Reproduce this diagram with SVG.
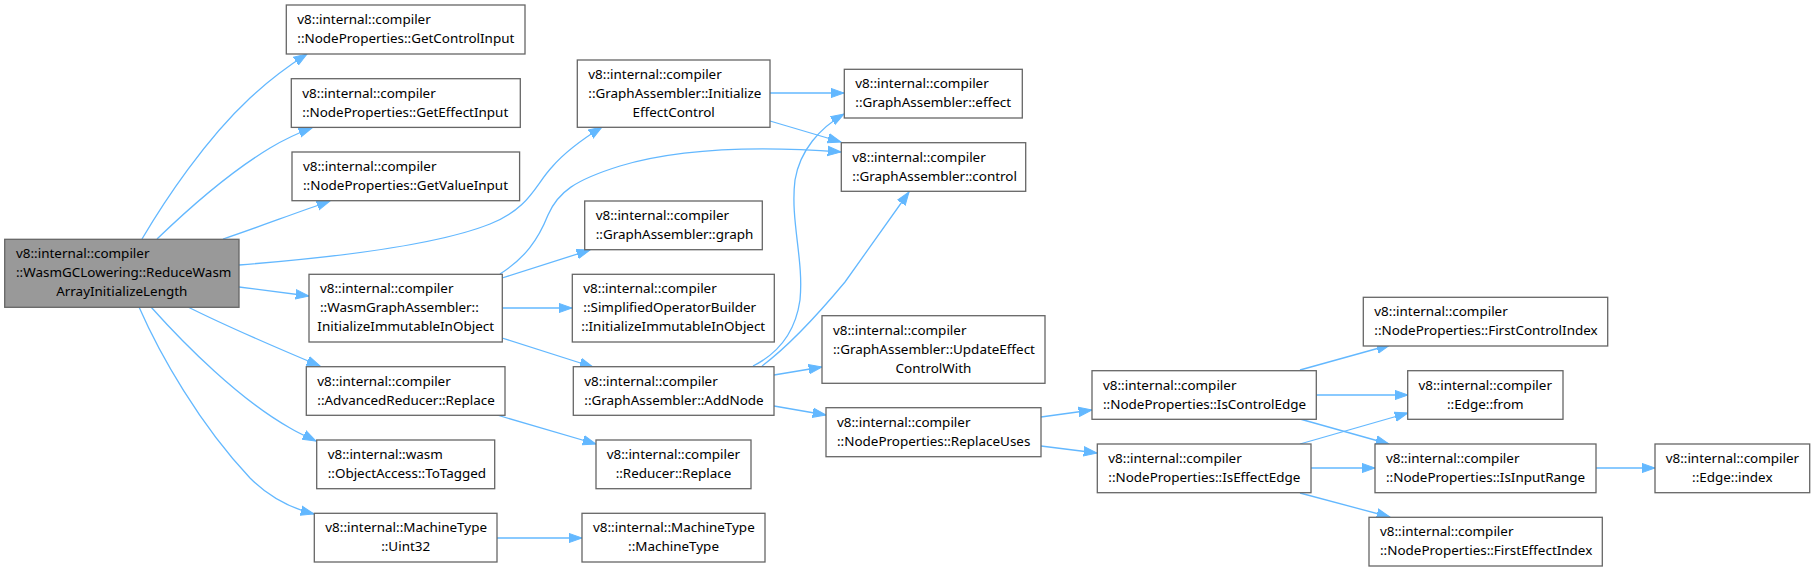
<svg xmlns="http://www.w3.org/2000/svg" width="1815" height="571" viewBox="0 0 1815 571">
<style>
.n rect{fill:#fff;stroke:#666;stroke-width:1.3}
.m rect{fill:#999}
text{font-family:"Noto Sans","DejaVu Sans",sans-serif;font-size:13.45px;fill:#000}
.c{text-anchor:middle}
#edges path{fill:none;stroke:#63b8ff;stroke-width:1.3;marker-end:url(#ah)}
</style>
<defs>
<marker id="ah" markerUnits="userSpaceOnUse" markerWidth="16" markerHeight="12" refX="13.3" refY="5" orient="auto" viewBox="0 0 16 10">
<path d="M0,0.3 L13.3,5 L0,9.7 z" fill="#63b8ff" stroke="#63b8ff" stroke-width="1"/>
</marker>
</defs>
<rect width="1815" height="571" fill="#fff"/>
<g id="edges">
<path d="M142,239 C165,200 205,140 250,98 C265,84 285,68 307,54"/>
<path d="M157,239 C185,212 230,172 270,148 C285,139 298,133 312,128"/>
<path d="M223,239 C250,230 290,215 330,201"/>
<path d="M239,265 C340,257 440,244 490,224 C530,208 535,185 552,167 C564,153 578,142 602,127"/>
<path d="M239,287 L309,296"/>
<path d="M188,307 C220,323 270,345 320,366"/>
<path d="M151,307 C185,345 240,400 290,428 C300,434 308,437 316,441"/>
<path d="M139,307 C160,355 200,425 250,478 C270,498 290,508 314,514"/>
<path d="M502,278 L590,250"/>
<path d="M500,274 C525,258 538,240 548,215 C558,192 575,180 620,166 C680,148 760,146 841,152"/>
<path d="M502,308 L572,308"/>
<path d="M502,338 L593,367"/>
<path d="M497,415 L596,444"/>
<path d="M497,538 L582,538"/>
<path d="M770,93 L844,93"/>
<path d="M770,121 L841,142"/>
<path d="M753,366 C775,355 795,335 800,300 C804,260 790,220 795,180 C800,150 820,128 844,114"/>
<path d="M762,366 C790,345 820,312 845,282 L909,192"/>
<path d="M774,375 L822,367"/>
<path d="M774,406 L826,415"/>
<path d="M1041,417 L1092,410"/>
<path d="M1041,446 L1097,453"/>
<path d="M1300,370 L1390,345"/>
<path d="M1316,395 L1408,395"/>
<path d="M1300,419 L1389,444"/>
<path d="M1300,444 L1408,413"/>
<path d="M1311,468 L1375,468"/>
<path d="M1300,493 L1390,517"/>
<path d="M1596,468 L1655,468"/>
</g>
<g id="main" class="n m"><rect x="4.7" y="239.3" width="234.3" height="68"/><text x="16" y="258.3">v8::internal::compiler</text><text x="16" y="277.3">::WasmGCLowering::ReduceWasm</text><text class="c" x="121.8" y="296.3">ArrayInitializeLength</text></g>
<g id="getcontrolinput" class="n"><rect x="286.3" y="5" width="238.7" height="49"/><text x="297.3" y="24">v8::internal::compiler</text><text x="297.3" y="43">::NodeProperties::GetControlInput</text></g>
<g id="geteffectinput" class="n"><rect x="291.3" y="78.7" width="229" height="48.7"/><text x="302.3" y="97.7">v8::internal::compiler</text><text x="302.3" y="116.7">::NodeProperties::GetEffectInput</text></g>
<g id="getvalueinput" class="n"><rect x="292" y="152" width="227.6" height="48.7"/><text x="303" y="171">v8::internal::compiler</text><text x="303" y="190">::NodeProperties::GetValueInput</text></g>
<g id="initeffectcontrol" class="n"><rect x="577.3" y="60" width="192.7" height="67.3"/><text x="588.3" y="79">v8::internal::compiler</text><text x="588.3" y="98">::GraphAssembler::Initialize</text><text class="c" x="673.7" y="117">EffectControl</text></g>
<g id="wasmgraphassembler" class="n"><rect x="309" y="274.3" width="193.3" height="67.7"/><text x="320" y="293.3">v8::internal::compiler</text><text x="320" y="312.3">::WasmGraphAssembler::</text><text class="c" x="405.7" y="331.3">InitializeImmutableInObject</text></g>
<g id="advancedreducer" class="n"><rect x="306.3" y="366.7" width="198.7" height="48.6"/><text x="317.3" y="385.7">v8::internal::compiler</text><text x="317.3" y="404.7">::AdvancedReducer::Replace</text></g>
<g id="totagged" class="n"><rect x="316.7" y="440" width="178" height="48.7"/><text x="327.7" y="459">v8::internal::wasm</text><text x="327.7" y="478">::ObjectAccess::ToTagged</text></g>
<g id="uint32" class="n"><rect x="314.3" y="513.3" width="182.7" height="48.7"/><text x="325.3" y="532.3">v8::internal::MachineType</text><text class="c" x="405.7" y="551.3">::Uint32</text></g>
<g id="effect" class="n"><rect x="844.3" y="69.3" width="178" height="48.7"/><text x="855.3" y="88.3">v8::internal::compiler</text><text x="855.3" y="107.3">::GraphAssembler::effect</text></g>
<g id="control" class="n"><rect x="841.3" y="142.7" width="184.4" height="48.6"/><text x="852.3" y="161.7">v8::internal::compiler</text><text x="852.3" y="180.7">::GraphAssembler::control</text></g>
<g id="graph" class="n"><rect x="584.7" y="201" width="177.6" height="48.7"/><text x="595.7" y="220">v8::internal::compiler</text><text x="595.7" y="239">::GraphAssembler::graph</text></g>
<g id="simplifiedopbuilder" class="n"><rect x="572.3" y="274.3" width="202" height="67.7"/><text x="583.3" y="293.3">v8::internal::compiler</text><text x="583.3" y="312.3">::SimplifiedOperatorBuilder</text><text class="c" x="673.3" y="331.3">::InitializeImmutableInObject</text></g>
<g id="addnode" class="n"><rect x="573.3" y="366.7" width="200.7" height="48.6"/><text x="584.3" y="385.7">v8::internal::compiler</text><text x="584.3" y="404.7">::GraphAssembler::AddNode</text></g>
<g id="reducerreplace" class="n"><rect x="596" y="440" width="155" height="48.7"/><text x="606.7" y="459">v8::internal::compiler</text><text class="c" x="673.5" y="478">::Reducer::Replace</text></g>
<g id="machinetype" class="n"><rect x="582" y="513.3" width="183" height="48.7"/><text x="593" y="532.3">v8::internal::MachineType</text><text class="c" x="673.5" y="551.3">::MachineType</text></g>
<g id="updateeffectcontrolwith" class="n"><rect x="822" y="315.7" width="223" height="67.6"/><text x="833" y="334.7">v8::internal::compiler</text><text x="833" y="353.7">::GraphAssembler::UpdateEffect</text><text class="c" x="933.5" y="372.7">ControlWith</text></g>
<g id="replaceuses" class="n"><rect x="826" y="407.7" width="215" height="49"/><text x="837" y="426.7">v8::internal::compiler</text><text x="837" y="445.7">::NodeProperties::ReplaceUses</text></g>
<g id="iscontroledge" class="n"><rect x="1092" y="370.7" width="224.3" height="48.6"/><text x="1103" y="389.7">v8::internal::compiler</text><text x="1103" y="408.7">::NodeProperties::IsControlEdge</text></g>
<g id="iseffectedge" class="n"><rect x="1097.3" y="444" width="213.7" height="48.7"/><text x="1108.3" y="463">v8::internal::compiler</text><text x="1108.3" y="482">::NodeProperties::IsEffectEdge</text></g>
<g id="firstcontrolindex" class="n"><rect x="1363.3" y="297.3" width="244.4" height="48.7"/><text x="1374.3" y="316.3">v8::internal::compiler</text><text x="1374.3" y="335.3">::NodeProperties::FirstControlIndex</text></g>
<g id="edgefrom" class="n"><rect x="1407.7" y="370.7" width="155.3" height="48.6"/><text x="1418.5" y="389.7">v8::internal::compiler</text><text class="c" x="1485.3" y="408.7">::Edge::from</text></g>
<g id="isinputrange" class="n"><rect x="1375" y="444" width="221" height="48.7"/><text x="1386" y="463">v8::internal::compiler</text><text x="1386" y="482">::NodeProperties::IsInputRange</text></g>
<g id="firsteffectindex" class="n"><rect x="1369" y="517.3" width="233.3" height="48.7"/><text x="1380" y="536.3">v8::internal::compiler</text><text x="1380" y="555.3">::NodeProperties::FirstEffectIndex</text></g>
<g id="edgeindex" class="n"><rect x="1655" y="444" width="154.7" height="48.7"/><text x="1665.7" y="463">v8::internal::compiler</text><text class="c" x="1732.3" y="482">::Edge::index</text></g>
</svg>
